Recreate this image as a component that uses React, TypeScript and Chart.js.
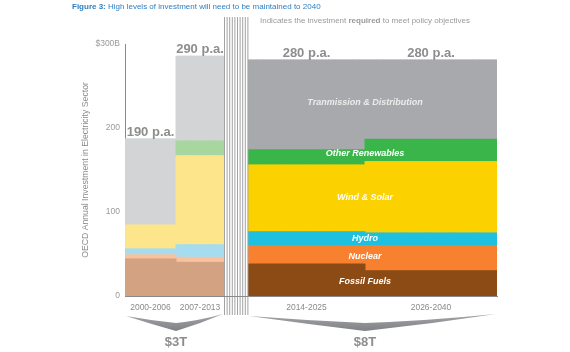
import { useEffect, useRef } from 'react';
import { Chart, registerables } from 'chart.js';

Chart.register(...registerables);

// ---------- data ----------
const periods = ['2000-2006', '2007-2013', '2014-2025', '2026-2040'];
const fossilFuels = [44, 40, 38, 30];
const nuclear = [5, 6, 22, 30];
const hydro = [7, 15, 16.5, 15];
const windSolar = [28.5, 106, 79.5, 85];
const otherRenewables = [0, 17.5, 18, 26.5];
const transmission = [102.5, 101, 107, 94.5];
const seriesNames = ['Fossil Fuels', 'Nuclear', 'Hydro', 'Wind & Solar', 'Other Renewables', 'Tranmission & Distribution'];
const topLabels = ['190 p.a.', '290 p.a.', '280 p.a.', '280 p.a.'];
const groupTotals = ['$3T', '$8T'];
const yTicks = [0, 100, 200, 300];

// ---------- styling / layout ----------
const FONT = "'Liberation Sans', Arial, Helvetica, sans-serif";
const mutedColors = ['#d2a283', '#f9c19e', '#a6dcef', '#fde58b', '#a7d79f', '#d3d4d6'];
const vividColors = ['#8c4a14', '#f7812f', '#1fc0df', '#fcd100', '#3ab54a', '#a7a9ac'];
const periodStart = [0, 17, 41, 80];
const periodEnd = [17, 33, 80, 124];
const groups = [[0, 1], [2, 3]];

const series = [fossilFuels, nuclear, hydro, windSolar, otherRenewables, transmission];

function buildDatasets() {
  return series.map((vals, si) => {
    const data: { x: number; y: number | null }[] = [];
    const bg: string[] = [];
    periods.forEach((_, pi) => {
      for (let s = periodStart[pi]; s < periodEnd[pi]; s++) {
        data.push({ x: s + 0.5, y: vals[pi] === 0 ? null : vals[pi] });
        bg.push(pi < 2 ? mutedColors[si] : vividColors[si]);
      }
    });
    return {
      label: seriesNames[si],
      data,
      backgroundColor: bg,
      borderWidth: 0,
      inflateAmount: 0.5,
      barPercentage: 1,
      categoryPercentage: 1,
    };
  });
}

const decorPlugin = {
  id: 'decor',
  afterDraw(chart: any) {
    const { ctx, scales } = chart;
    const xs = scales.x;
    const ys = scales.y;
    ctx.save();

    // hatch band (required investment marker)
    const hx0 = xs.getPixelForValue(periodEnd[1]);
    const hx1 = xs.getPixelForValue(periodStart[2]);
    ctx.fillStyle = '#ffffff';
    ctx.fillRect(hx0, 17, hx1 - hx0, 298);
    ctx.strokeStyle = '#a3a3a3';
    ctx.lineWidth = 1;
    for (let x = hx0 + 0.5; x <= hx1; x += 2.6) {
      ctx.beginPath();
      ctx.moveTo(x, 17);
      ctx.lineTo(x, 315);
      ctx.stroke();
    }
    ctx.strokeStyle = '#8a8a8a';
    ctx.beginPath();
    ctx.moveTo(hx0, ys.getPixelForValue(0) + 0.5);
    ctx.lineTo(hx1, ys.getPixelForValue(0) + 0.5);
    ctx.stroke();

    // totals above each period
    ctx.fillStyle = '#8d8d8d';
    ctx.font = `bold 13px ${FONT}`;
    ctx.textAlign = 'center';
    ctx.textBaseline = 'alphabetic';
    periods.forEach((_, pi) => {
      const total = series.reduce((a, s) => a + s[pi], 0);
      const cx = (xs.getPixelForValue(periodStart[pi]) + xs.getPixelForValue(periodEnd[pi])) / 2;
      ctx.fillText(topLabels[pi], cx, ys.getPixelForValue(total) - 3);
    });

    // segment labels on right block
    const lx = xs.getPixelForValue(periodStart[3]);
    ctx.font = `italic bold 9px ${FONT}`;
    ctx.textBaseline = 'middle';
    series.forEach((vals, si) => {
      let mid = 0;
      [2, 3].forEach((pi) => {
        let below = 0;
        for (let k = 0; k < si; k++) below += series[k][pi];
        mid += below + vals[pi] / 2;
      });
      mid /= 2;
      ctx.fillStyle = si === 5 ? '#ececec' : '#ffffff';
      ctx.fillText(seriesNames[si], lx, ys.getPixelForValue(mid));
    });

    // braces and group totals
    groups.forEach((g, gi) => {
      const x0 = xs.getPixelForValue(periodStart[g[0]]) + 1;
      const x1 = xs.getPixelForValue(periodEnd[g[1]]) - 1;
      const ax = xs.getPixelForValue(periodStart[g[1]]);
      const grad = ctx.createLinearGradient(0, 314, 0, 331);
      grad.addColorStop(0, '#a3a5a8');
      grad.addColorStop(1, '#7f8184');
      ctx.fillStyle = grad;
      ctx.beginPath();
      ctx.moveTo(x0, 316);
      ctx.quadraticCurveTo((x0 + ax) / 2, 320.5, ax, 323);
      ctx.quadraticCurveTo((x1 + ax) / 2, 320.5, x1, 314);
      ctx.quadraticCurveTo((x1 + ax) / 2, 324, ax, 331);
      ctx.quadraticCurveTo((x0 + ax) / 2, 324, x0, 316);
      ctx.closePath();
      ctx.fill();
      ctx.fillStyle = '#8d8d8d';
      ctx.font = `bold 13px ${FONT}`;
      ctx.textAlign = 'center';
      ctx.textBaseline = 'middle';
      ctx.fillText(groupTotals[gi], ax, 342);
    });

    // figure title
    ctx.textAlign = 'left';
    ctx.textBaseline = 'middle';
    ctx.fillStyle = '#2f7fc1';
    ctx.font = `bold 8px ${FONT}`;
    const fig = 'Figure 3:';
    ctx.fillText(fig, 72, 7);
    const fw = ctx.measureText(fig + ' ').width;
    ctx.font = `8px ${FONT}`;
    ctx.fillText('High levels of investment will need to be maintained to 2040', 72 + fw, 7);

    // legend text for hatch band
    ctx.fillStyle = '#9a9a9a';
    let tx = 260;
    const parts: [string, boolean][] = [
      ['Indicates the investment ', false],
      ['required', true],
      [' to meet policy objectives', false],
    ];
    parts.forEach(([t, b]) => {
      ctx.font = `${b ? 'bold ' : ''}8px ${FONT}`;
      ctx.fillText(t, tx, 21);
      tx += ctx.measureText(t).width;
    });

    ctx.restore();
  },
};

export default function App() {
  const ref = useRef<HTMLCanvasElement>(null);
  useEffect(() => {
    if (!ref.current) return;
    Chart.defaults.font.family = FONT;
    const chart = new Chart(ref.current, {
      type: 'bar',
      data: { datasets: buildDatasets() as any },
      options: {
        responsive: false,
        animation: false,
        layout: { padding: { left: 0, top: 44, right: 73, bottom: 0 } },
        plugins: {
          legend: { display: false },
          tooltip: { enabled: false },
          title: { display: false },
        },
        scales: {
          x: {
            type: 'linear',
            stacked: true,
            min: 0,
            max: 124,
            offset: false,
            grid: { display: false, drawTicks: false },
            border: { display: true, color: '#8a8a8a', width: 1 },
            afterBuildTicks: (s: any) => {
              s.ticks = periods.map((_, pi) => ({ value: (periodStart[pi] + periodEnd[pi]) / 2 }));
            },
            afterFit: (s: any) => {
              s.height = 56;
            },
            ticks: {
              autoSkip: false,
              maxRotation: 0,
              minRotation: 0,
              padding: 7,
              color: '#8a8a8a',
              font: { size: 8.5 },
              callback: (_v: any, i: number) => periods[i],
            },
          },
          y: {
            stacked: true,
            min: 0,
            max: 300,
            grid: { display: false, drawTicks: false },
            border: { display: true, color: '#8a8a8a', width: 1 },
            afterBuildTicks: (s: any) => {
              s.ticks = yTicks.map((v) => ({ value: v }));
            },
            afterFit: (s: any) => {
              s.width = 125;
            },
            ticks: {
              padding: 5,
              color: '#9a9a9a',
              font: { size: 8.5 },
              callback: (v: any) => (v === 300 ? '$300B' : String(v)),
            },
            title: {
              display: true,
              text: 'OECD Annual Investment in Electricity Sector',
              color: '#8a8a8a',
              font: { size: 8.7 },
              padding: { top: 80, bottom: 0 },
            },
          },
        } as any,
      },
      plugins: [decorPlugin],
    });
    return () => chart.destroy();
  }, []);
  return (
    <div style={{ position: 'fixed', left: 0, top: 0, width: 570, height: 352, background: '#fff' }}>
      <canvas ref={ref} width={570} height={352} style={{ display: 'block', width: 570, height: 352 }} />
    </div>
  );
}
